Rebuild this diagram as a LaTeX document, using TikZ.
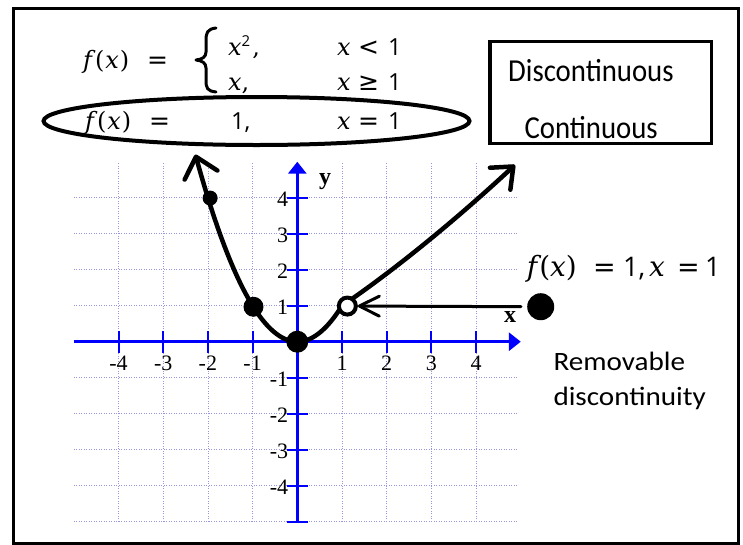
\documentclass[tikz,border=0pt]{standalone}
\usepackage{fontspec}
\usetikzlibrary{arrows.meta,shapes.geometric}
\newfontfamily\tnr{Liberation Serif}
\newfontfamily\calfont[FakeStretch=0.9]{Carlito}
\newfontfamily\calwide[FakeStretch=1.1]{Carlito}
\newfontfamily\eqser{DejaVu Serif}
\newfontfamily\eqsym{DejaVu Sans}
\newfontfamily\eqnum{Open Sans}
\newcommand\EV[1]{{\eqser\itshape #1}}
\newcommand\EP[1]{{\eqser #1}}
\definecolor{gridc}{RGB}{150,150,225}
\definecolor{axisblue}{RGB}{0,0,255}
\begin{document}
\begin{tikzpicture}[x=1pt,y=-1pt,
  gridline/.style={gridc, line width=0.8pt, dash pattern=on 1pt off 1.5pt},
  axisline/.style={axisblue, line width=3pt},
  tickline/.style={axisblue, line width=2pt},
  curve/.style={line width=4.5pt, line cap=round, line join=round},
  dotnode/.style={circle, fill=black, inner sep=0pt},
  ticklab/.style={font=\tnr\fontsize{22}{22}\selectfont, inner sep=0pt},
  axlab/.style={font=\tnr\bfseries\fontsize{24}{24}\selectfont, inner sep=0pt},
  eqp/.style={inner sep=0pt, anchor=base west},
  lv/.style={eqp, font=\fontsize{24}{28}\selectfont},
  ls/.style={eqp, font=\eqsym\fontsize{25}{28}\selectfont},
  ln/.style={eqp, font=\eqnum\fontsize{23.5}{26}\selectfont},
  rv/.style={eqp, font=\fontsize{28}{32}\selectfont},
  rs/.style={eqp, font=\eqsym\fontsize{27}{30}\selectfont},
  rn/.style={eqp, font=\eqnum\fontsize{27}{30}\selectfont},
  boxlab/.style={eqp, font=\calfont\fontsize{32}{36}\selectfont},
  notelab/.style={eqp, font=\calwide\fontsize{26.5}{30}\selectfont}
]
\useasboundingbox (0,0) rectangle (743,544);
\fill[white] (0,0) rectangle (743,544);
\draw[line width=3pt] (13,8) rectangle (738,543);

\begin{scope}[shift={(297.3,341.7)}, x=44.7pt, y=36pt]
  \foreach \i in {-4,...,4} \draw[gridline] (\i,-5) -- (\i,5);
  \foreach \j in {-5,...,4} \draw[gridline] (-5,\j) -- (4.95,\j);
  \draw[axisline,-{Triangle[length=12pt,width=18pt]}] (-5,0) -- (5,0);
  \draw[axisline,-{Triangle[length=12pt,width=18pt]}] (0,-5) -- (0,5);
  \foreach \i in {-4,-3,-2,-1,1,2,3,4} {
    \draw[tickline] (\i,-0.31) -- (\i,0.31);
    \node[ticklab] (xl\i) at (\i,-0.6) {\i};
  }
  \draw[tickline] (-0.22,-5) -- (0.24,-5);
  \foreach \j in {-4,-3,-2,-1,1,2,3,4} {
    \draw[tickline] (-0.22,\j) -- (0.24,\j);
    \node[ticklab, anchor=east] (yl\j) at (-0.2,\j-0.05) {\j};
  }
  \node[axlab] (ylab) at (0.62,4.44) {y};
  \node[axlab] (xlab) at (4.76,0.69) {x};
  \draw[curve, {Straight Barb[length=19pt,width=34pt,round]}-] plot[domain=-2.28:1, samples=50, smooth] (\x,{\x*\x});
  \draw[curve, -{Straight Barb[length=18pt,width=30pt,round]}] (1,1) .. controls (1.9,1.75) and (3.3,3.1) .. (4.87,4.91);
  \node[dotnode, minimum size=15pt] (p1) at (-1.95,3.99) {};
  \node[dotnode, minimum size=20pt] (p2) at (-0.98,0.97) {};
  \node[dotnode, minimum size=22pt] (p3) at (0,0) {};
  \node[circle, draw, line width=4pt, fill=white, minimum size=17pt, inner sep=0pt] (hole) at (1.12,0.99) {};
\end{scope}

\node[dotnode, minimum size=27pt] (big) at (540.7,306.7) {};
\draw[line width=3pt, line cap=round, {Straight Barb[length=20pt,width=20pt,round]}-, shorten >=6pt] (hole.east) -- (big.west);

% right formula f(x) = 1, x = 1
\node[rv] (rf) at (526.7,276.7) {\EV{f}\kern2pt\EP{(}\EV{x}\EP{)}};
\node[rs] (req1) at (593,276.7) {=};
\node[rn] (rone) at (623,276.7) {1,};
\node[rv] (rx) at (649,276.7) {\EV{x}};
\node[rs] (req2) at (677,276.7) {=};
\node[rn] (rtwo) at (705,276.7) {1};

% box
\node[draw, line width=3.3pt, minimum width=221.7pt, minimum height=101.6pt, inner sep=0pt] (box) at (600.85,92.5) {};
\node[boxlab] (disc) at (508,81.7) {Discontinuous};
\node[boxlab] (cont) at (524.3,138.3) {Continuous};
\node[notelab] (rem) at (553.3,370) {Removable};
\node[notelab] (dis2) at (553.3,405) {discontinuity};

% piecewise definition
\node[lv] (f1) at (83,68) {\EV{f}\kern3pt\EP{(}\kern1pt\EV{x}\kern1pt\EP{)}};
\node[ls] (e1) at (147,68) {=};
\draw[line width=3pt, line cap=round, line join=round] (216,28) .. controls (207,29) and (206,33) .. (206,41) -- (206,52) .. controls (206,57) and (202,59.5) .. (196,60) .. controls (202,60.5) and (206,63) .. (206,68) -- (206,80) .. controls (206,88) and (207,91) .. (216,92);
\node[lv] (a1) at (228,55) {\EV{x}\raisebox{9pt}{\eqnum\fontsize{15}{15}\selectfont 2}\kern2pt\EP{,}};
\node[lv] (b1) at (337,55) {\EV{x}};
\node[ls] (lt) at (358,55) {<};
\node[ln] (n1) at (388,55) {1};
\node[lv] (a2) at (228,90) {\EV{x}\EP{,}};
\node[lv] (b2) at (337,90) {\EV{x}};
\node[ls] (ge) at (358,90) {≥};
\node[ln] (n2) at (388,90) {1};
\node[lv] (f2) at (85,129) {\EV{f}\kern3pt\EP{(}\kern1pt\EV{x}\kern1pt\EP{)}};
\node[ls] (e3) at (149,129) {=};
\node[ln] (n3) at (231,129) {1,};
\node[lv] (b3) at (337,129) {\EV{x}};
\node[ls] (e4) at (358,129) {=};
\node[ln] (n4) at (388,129) {1};
\node[ellipse, draw, line width=4pt, minimum width=426pt, minimum height=48pt, inner sep=0pt] (oval) at (256.5,121) {};
\end{tikzpicture}
\end{document}
